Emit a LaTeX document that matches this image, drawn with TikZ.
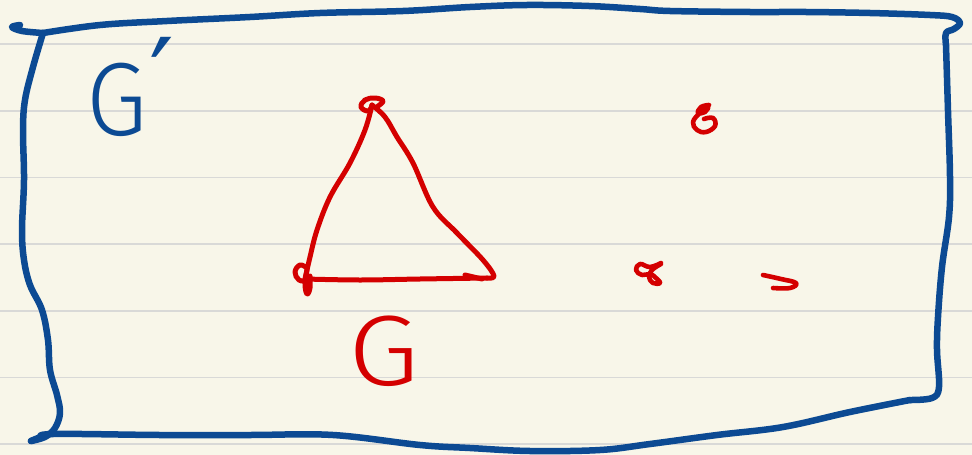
\documentclass[tikz,border=0pt]{standalone}
\usepackage{fontspec}
\newfontfamily\handfont{Fira Sans}[UprightFont={* Light}]
\newfontfamily\primefont{DejaVu Sans}
\definecolor{paper}{HTML}{F8F6E9}
\definecolor{rulecol}{HTML}{D9D9D7}
\definecolor{ink}{HTML}{0C4A93}
\definecolor{pen}{HTML}{D40000}
\begin{document}
\begin{tikzpicture}[x=1pt,y=-1pt,
  frame/.style={draw=ink,line width=6.5pt,line cap=round,line join=round},
  redpen/.style={draw=pen,line width=5pt,line cap=round,line join=round},
  ruling/.style={draw=rulecol,line width=1.6pt},
  bluelabel/.style={text=ink,font=\handfont\fontsize{104}{104}\selectfont,inner sep=0pt,anchor=base west},
  redlabel/.style={text=pen,font=\handfont\fontsize{100}{100}\selectfont,inner sep=0pt,anchor=base west}]
\useasboundingbox (0,0) rectangle (972,455);
\fill[paper] (0,0) rectangle (972,455);
\foreach \yy in {44,111,177.5,244,311,377.5,444} \draw[ruling] (0,\yy) -- (972,\yy);
% frame
\draw[frame] plot[smooth,tension=0.6] coordinates {(20,25) (12,27) (22,31) (43,33)};
\draw[frame] plot[smooth,tension=0.6] coordinates {(43,33) (100,25) (167,21) (250,17) (320,13) (403,11) (470,7) (527,5) (589,6) (640,9) (670,11) (750,12) (806,12) (870,13) (930,15) (952,17) (960,23) (954,29) (946,33) (946,45)};
\draw[frame] plot[smooth,tension=0.6] coordinates {(946,45) (948,111) (950,177) (949,217) (942,267) (938,317) (937,350) (939,387) (932,398) (910,400)};
\draw[frame] plot[smooth,tension=0.6] coordinates {(910,400) (850,412) (783,427) (717,435) (650,444) (600,450) (530,451) (470,448) (420,445) (333,435) (250,435) (160,435) (53,434) (40,438) (31,441) (38,438)};
\draw[frame] plot[smooth,tension=0.6] coordinates {(31,441) (45,437) (55,428) (60,413) (57,395) (50,370) (48,340) (42,310) (30,285) (24,260) (22,230) (24,180) (23,130) (25,100) (33,67) (43,33)};
% labels
\node[bluelabel] (gp) at (86,135) {\scalebox{0.95}[1]{G}\kern2pt\raisebox{18pt}{\primefont\fontsize{110}{110}\selectfont ′}};
\node[redlabel] (g) at (348,385) {\scalebox{1.15}[1]{G}};
% vertices of the triangle
\coordinate (a) at (372,105);
\coordinate (b) at (305,279);
\coordinate (c) at (487,278);
\draw[redpen] plot[smooth,tension=0.7] coordinates {(378,106) (383,101) (375,98) (365,100) (361,107) (368,111) (372,106)};
\draw[redpen] plot[smooth,tension=0.7] coordinates {(307,268) (300,265) (295,272) (299,280) (307,281)};
\draw[redpen] plot[smooth,tension=0.7] coordinates {(307,270) (305,284) (307,294) (310,288) (310,276)};
% edges
\draw[redpen] plot[smooth,tension=0.6] coordinates {(a) (365,130) (350,163) (330,197) (317,230) (310,257) (b)};
\draw[redpen] plot[smooth,tension=0.6] coordinates {(a) (385,117) (397,137) (413,163) (433,207) (457,233) (483,260) (494,276) (c)};
\draw[redpen] plot[smooth,tension=0.6] coordinates {(b) (360,280) (420,279) (c)};
\draw[redpen] (465,275) -- (482,279);
% isolated vertices
\coordinate (d) at (704,119);
\coordinate (e) at (650,274);
\coordinate (f) at (780,281);
\draw[redpen,line width=4.6pt] plot[smooth,tension=0.7] coordinates {(709,105) (701,107) (698,113) (705,112) (708,107) (700,113) (693,122) (697,130) (706,132) (715,126) (713,118) (d)};
\draw[redpen,line width=4.6pt] plot[smooth,tension=0.7] coordinates {(661,263) (650,267) (640,264) (636,270) (642,275) (e) (656,278) (660,283) (653,283) (649,277) (652,270) (661,264)};
\draw[redpen,line width=4.6pt] plot[smooth,tension=0.7] coordinates {(763,275) (781,279) (796,283) (790,288) (773,288)};
\end{tikzpicture}
\end{document}
